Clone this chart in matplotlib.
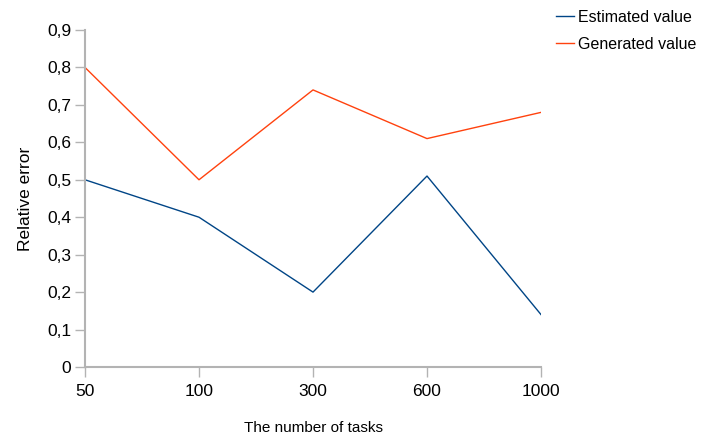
import matplotlib
matplotlib.use("Agg")
import matplotlib.pyplot as plt

categories = ["50", "100", "300", "600", "1000"]
estimated = [0.50, 0.40, 0.20, 0.51, 0.14]
generated = [0.80, 0.50, 0.74, 0.61, 0.68]
yticks = [0, 0.1, 0.2, 0.3, 0.4, 0.5, 0.6, 0.7, 0.8, 0.9]
ylabels = ["0", "0,1", "0,2", "0,3", "0,4", "0,5", "0,6", "0,7", "0,8", "0,9"]

plt.rcParams['font.family'] = ['Liberation Sans', 'DejaVu Sans']

fig = plt.figure(figsize=(7.04, 4.36), dpi=100)
ax = fig.add_axes([85/704, 1-367/436, (541-85)/704, (367-30)/436])

x = list(range(len(categories)))
ax.plot(x, estimated, color="#004586", lw=1.0, label="Estimated value")
ax.plot(x, generated, color="#ff420e", lw=1.0, label="Generated value")

ax.set_xlim(0, len(categories)-1)
ax.set_ylim(0, 0.9)
ax.set_xticks(x)
ax.set_xticklabels(categories)
ax.set_yticks(yticks)
ax.set_yticklabels(ylabels)

for s in ["top", "right"]:
    ax.spines[s].set_visible(False)
for s in ["left", "bottom"]:
    ax.spines[s].set_color("#b3b3b3")
    ax.spines[s].set_linewidth(1.5)
ax.tick_params(axis="both", colors="#b3b3b3", labelcolor="black", labelsize=12.5,
               length=7, width=1)
ax.tick_params(axis="x", pad=5)
ax.tick_params(axis="y", pad=3)

ax.set_xlabel("The number of tasks", fontsize=11, labelpad=16)
ax.set_ylabel("Relative error", fontsize=12.5, labelpad=10)

fig.legend(loc="upper left", bbox_to_anchor=(556/704, 1-10/436), frameon=False,
           fontsize=11.5, handlelength=1.1, handletextpad=0.3, labelspacing=0.75,
           borderaxespad=0, borderpad=0)

fig.savefig("out.png", dpi=100)
